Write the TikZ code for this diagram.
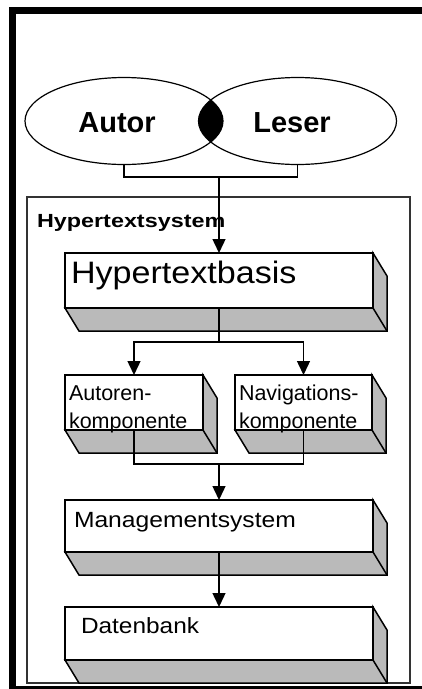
\documentclass[tikz,border=0pt]{standalone}
\usepackage{fontspec}
\setmainfont{Liberation Sans}
\usetikzlibrary{arrows.meta,shapes.geometric}
\tikzset{
 front/.style={draw=black, line width=1.5pt, fill=white, rectangle, inner sep=0pt, outer sep=0pt},
 side/.style={draw=black, line width=1.5pt, fill=black!27, line join=miter},
 conn/.style={draw=black, line width=1.4pt},
 arr/.style={conn, -{Triangle[width=13pt,length=14pt]}},
 txt/.style={inner sep=0pt, outer sep=0pt},
 oval/.style={ellipse, draw=black, line width=1.2pt, minimum width=198pt, minimum height=87pt, inner sep=0pt, outer sep=0pt},
}
\newcommand\tdbox[5]{%
 \node[front, anchor=north west, minimum width={#4pt-#2pt}, minimum height={#5pt-#3pt}] (#1) at (#2,#3) {};
 \draw[side] (#1.north east) -- ++(14,23) -- ([shift={(14,23)}]#1.south east) -- ([shift={(14,23)}]#1.south west) -- (#1.south west) -- (#1.south east) -- cycle;
 \draw[side,fill=none] (#1.south east) -- ++(14,23);
}
\begin{document}
\begin{tikzpicture}[x=1pt,y=-1pt]
\useasboundingbox (0,0) rectangle (422,689);
\clip (0,0) rectangle (422,689);
\fill[white] (0,0) rectangle (422,689);
% outer window frame
\draw[line width=7pt, line join=miter] (440,10.5) -- (12.5,10.5) -- (12.5,689) -- (440,689);
% ellipses
\node[oval] (autor) at (124,121) {};
\node[oval] (leser) at (297.5,121) {};
\begin{scope}
 \clip (autor.center) ellipse [x radius=99, y radius=43.5];
 \fill[black] (leser.center) ellipse [x radius=99, y radius=43.5];
\end{scope}
\node[txt, anchor=base] (tautor) at (117,132) {\fontsize{29}{33}\selectfont\bfseries Autor};
\node[txt, anchor=base] (tleser) at (292,132) {\fontsize{29}{33}\selectfont\bfseries Leser};
% system frame
\node[draw=black!80, line width=1.4pt, rectangle, inner sep=0pt, outer sep=0pt, anchor=north west, minimum width=383pt, minimum height=486pt] (sys) at (27,197) {};
\node[txt, anchor=base west] (tsys) at (37,227) {\fontsize{19}{22}\selectfont\bfseries\scalebox{1.23}[1]{Hypertextsystem}};
% boxes
\tdbox{hb}{65}{253}{373}{308}
\tdbox{ak}{65}{375}{203}{430}
\tdbox{nk}{235}{375}{372}{430}
\tdbox{ms}{65}{500}{373}{552}
\tdbox{db}{65}{607}{373}{660}
% texts
\node[txt, anchor=base west] (thb) at (71,283) {\fontsize{31}{36}\selectfont\scalebox{1.1}[1]{Hypertextbasis}};
\node[txt, anchor=base west] (tak1) at (69,400) {\fontsize{21.5}{25}\selectfont Autoren-};
\node[txt, anchor=base west] (tak2) at (69,428) {\fontsize{21.5}{25}\selectfont komponente};
\node[txt, anchor=base west] (tnk1) at (239,400) {\fontsize{21.5}{25}\selectfont Navigations-};
\node[txt, anchor=base west] (tnk2) at (239,428) {\fontsize{21.5}{25}\selectfont komponente};
\node[txt, anchor=base west] (tms) at (74,527) {\fontsize{22}{26}\selectfont\scalebox{1.12}[1]{Managementsystem}};
\node[txt, anchor=base west] (tdb) at (81,633) {\fontsize{22}{26}\selectfont\scalebox{1.11}[1]{Datenbank}};
% connectors
\coordinate (j1) at (219,177);
\draw[conn] (autor.south) |- (j1) -| (leser.south);
\draw[arr] (j1) -- (hb.north);
\coordinate (j2) at (219,342);
\draw[conn] (hb.south) -- (j2);
\draw[arr] (j2) -| (ak.north);
\draw[arr] (j2) -| (nk.north);
\coordinate (j3) at (219,464);
\draw[conn] (ak.south) |- (j3) -| (nk.south);
\draw[arr] (j3) -- (ms.north);
\draw[arr] (ms.south) -- (db.north);
\end{tikzpicture}
\end{document}
